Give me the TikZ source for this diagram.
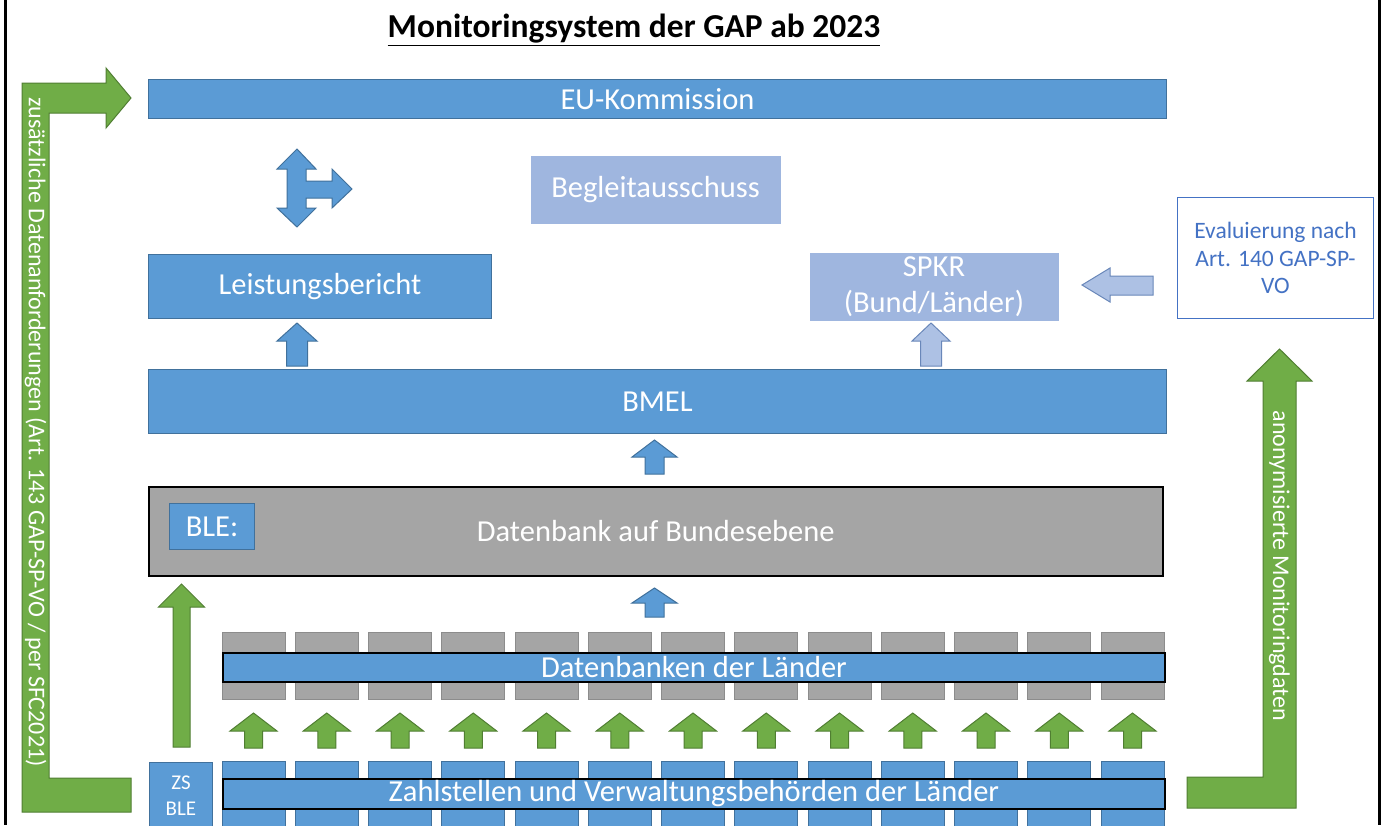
\documentclass[tikz,border=0pt]{standalone}
\usepackage{fontspec}
\setmainfont{Carlito}
\definecolor{blueb}{RGB}{91,155,213}
\definecolor{bluedk}{RGB}{65,113,156}
\definecolor{lightb}{RGB}{159,182,223}
\definecolor{lightdk}{RGB}{105,135,185}
\definecolor{greenf}{RGB}{112,173,71}
\definecolor{greendk}{RGB}{80,126,50}
\definecolor{grayf}{RGB}{165,165,165}
\definecolor{graydk}{RGB}{140,140,140}
\definecolor{evalc}{RGB}{68,114,196}
% block arrow pointing up: x, tip y, head half width, shaft half width, head length, total length, style
\newcommand{\blkup}[7]{%
  \draw[#7] (#1,#2) -- ({#1+#3},{#2+#5}) -- ({#1+#4},{#2+#5}) -- ({#1+#4},{#2+#6})
    -- ({#1-#4},{#2+#6}) -- ({#1-#4},{#2+#5}) -- ({#1-#3},{#2+#5}) -- cycle;}
\begin{document}
\begin{tikzpicture}[x=1pt,y=-1pt,
  box/.style={draw=bluedk,fill=blueb,text=white,line width=1pt,inner sep=0pt,anchor=north west,
    font=\fontsize{30.5}{36}\selectfont},
  lbox/.style={box,draw=none,fill=lightb},
  barbox/.style={box,draw=black,line width=2pt},
  blkarr/.style={draw=bluedk,fill=blueb,line width=1pt,line join=miter},
  lblkarr/.style={draw=lightdk,fill=lightb!85,line width=1pt,line join=miter},
  garr/.style={draw=greendk,fill=greenf,line width=1pt,line join=miter},
  sidetext/.style={text=white,rotate=-90,font=\fontsize{24}{28}\selectfont}]
\clip (0,0) rectangle (1381,825);
\fill[white] (0,0) rectangle (1381,825);
\draw[line width=3pt] (5,0) -- (5,825);
\draw[line width=3pt] (1379,0) -- (1379,825);

\node (title) at (634,30) {\fontsize{33.5}{38}\selectfont\bfseries\underline{Monitoringsystem der GAP ab 2023}};

\node[box,minimum width=1018pt,minimum height=39pt] (eu) at (148,79) {EU-Kommission};
\node[lbox,minimum width=250pt,minimum height=68pt] (begleit) at (530,155) {Begleitausschuss};
\node[box,minimum width=343pt,minimum height=64pt] (leistung) at (148,254) {Leistungsbericht};
\node[lbox,minimum width=249pt,minimum height=68pt,align=center] (spkr) at (809,252) {SPKR\\(Bund/Länder)};
\node[box,draw=evalc,fill=white,text=evalc,minimum width=196pt,minimum height=121pt,align=center,
  font=\fontsize{23.5}{27.5}\selectfont] (eval) at (1177,197) {Evaluierung nach\\Art. 140 GAP-SP-\\VO};
\node[box,minimum width=1018pt,minimum height=64pt] (bmel) at (148,369) {BMEL};
\node[box,draw=black,line width=1.5pt,fill=grayf,minimum width=1014pt,minimum height=89pt] (bund) at (148,486) {Datenbank auf Bundesebene};
\node[box,minimum width=85pt,minimum height=46pt] (ble) at (169,503) {BLE:};

% Laender
\foreach \i in {0,...,12}
  \draw[draw=graydk,fill=grayf,line width=1pt] ({222+73.25*\i},632) rectangle ++(63,67);
\node[barbox,minimum width=942pt,minimum height=29pt] (laender) at (222,652) {Datenbanken der Länder};
\foreach \i in {0,...,12}
  \draw[draw=bluedk,fill=blueb,line width=1pt] ({222+73.25*\i},761) rectangle ++(63,70);
\node[barbox,minimum width=942pt,minimum height=30pt] (zahl) at (222,778) {Zahlstellen und Verwaltungsbehörden der Länder};
\node[box,minimum width=63pt,minimum height=66pt,align=center,font=\fontsize{21}{26}\selectfont] (zsble) at (149,762) {ZS\\BLE};

% block arrows
\draw[blkarr] (297,149) -- (316,169) -- (306,169) -- (306,181) -- (332,181) -- (332,169) -- (352,189)
  -- (332,208) -- (332,198) -- (306,198) -- (306,208) -- (316,208) -- (297,227) -- (277,208)
  -- (287,208) -- (287,198) -- (287,181) -- (287,169) -- (277,169) -- cycle;
\blkup{297}{323}{20}{10.5}{18}{43}{blkarr}
\blkup{931}{323}{19}{10.5}{18}{43}{lblkarr}
\blkup{654.5}{440}{22.5}{9.5}{17}{34}{blkarr}
\blkup{654.5}{588}{22.5}{9.5}{15}{29}{blkarr}
\draw[lblkarr] (1082,285) -- (1110,268) -- (1110,276) -- (1153,276) -- (1153,295) -- (1110,295) -- (1110,302) -- cycle;
\foreach \i in {0,...,12}{
  \pgfmathsetmacro\cx{253.5+73.25*\i}
  \blkup{\cx}{713}{23.5}{9}{18}{35}{garr}
}
\blkup{181.5}{584}{23}{8.5}{23}{163}{garr}

% side arrows
\draw[garr] (22,812) -- (131,812) -- (131,778) -- (49,778) -- (49,113) -- (106,113) -- (106,128)
  -- (131,98) -- (106,68) -- (106,83) -- (22,83) -- cycle;
\node[sidetext] (zusatz) at (35.5,432) {zusätzliche Datenanforderungen (Art. 143 GAP-SP-VO / per SFC2021)};
\draw[garr] (1187,777) -- (1263,777) -- (1263,381) -- (1247,381) -- (1279.5,349) -- (1312,381)
  -- (1296,381) -- (1296,808) -- (1187,808) -- cycle;
\node[sidetext] (anonym) at (1279.5,566) {anonymisierte Monitoringdaten};
\end{tikzpicture}
\end{document}
